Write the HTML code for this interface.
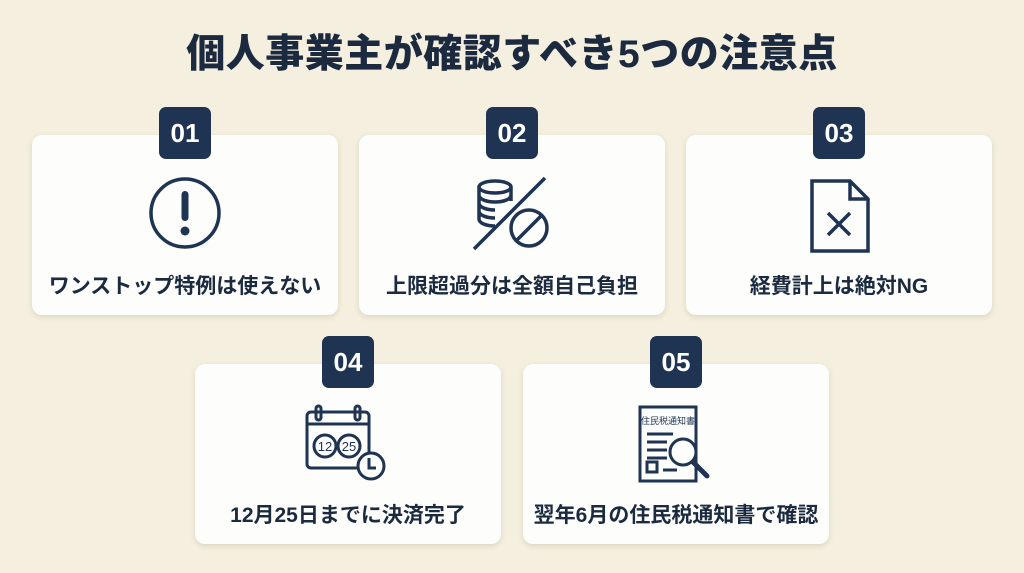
<!DOCTYPE html>
<html><head><meta charset="utf-8"><style>
*{margin:0;padding:0;box-sizing:border-box}
body{width:1024px;height:573px;background:#f5efdf;position:relative;overflow:hidden;font-family:"Liberation Sans","Noto Sans CJK JP",sans-serif;color:#1c2a40}
h1{position:absolute;top:30px;left:0;width:1024px;text-align:center;font-size:39px;line-height:50px;font-weight:900;letter-spacing:0.5px}
.card{position:absolute;width:306px;height:180px;background:#fdfdfc;border-radius:10px;box-shadow:0 2px 6px rgba(120,110,80,.2)}
.badge{position:absolute;width:52px;height:52px;background:#1f3452;color:#fff;border-radius:7px;font-size:26px;font-weight:bold;text-align:center;line-height:52px}
.lbl{position:absolute;left:0;width:306px;top:135px;text-align:center;font-size:21px;font-weight:bold}
svg{position:absolute}
</style></head><body>
<h1>個人事業主が確認すべき5つの注意点</h1>

<div class="card" style="left:32px;top:135px"><div class="lbl">ワンストップ特例は使えない</div>
<svg style="left:115px;top:40px" width="76" height="76"><circle cx="38" cy="38" r="34" fill="none" stroke="#1f3452" stroke-width="3.5"/><rect x="34.5" y="16" width="7" height="30" rx="3.5" fill="#1f3452"/><circle cx="38" cy="56" r="4.5" fill="#1f3452"/></svg></div>
<div class="badge" style="left:159px;top:107px">01</div>

<div class="card" style="left:359px;top:135px"><div class="lbl">上限超過分は全額自己負担</div>
<svg style="left:110px;top:40px" width="90" height="80" fill="none" stroke="#1f3452" stroke-width="3.5">
<ellipse cx="26" cy="12" rx="16" ry="6"/><path d="M10 12v32c0 4 7 7 16 7M42 12v14M10 20c0 4 7 7 16 7s16-3 16-7M10 28c0 4 7 7 16 7M10 36c0 4 7 7 16 7"/>
<circle cx="60" cy="53" r="18"/><line x1="48" y1="65" x2="72" y2="41"/><line x1="5" y1="74" x2="76" y2="3"/></svg></div>
<div class="badge" style="left:486px;top:107px">02</div>

<div class="card" style="left:686px;top:135px"><div class="lbl">経費計上は絶対NG</div>
<svg style="left:122px;top:42px" width="64" height="80" fill="none" stroke="#1f3452" stroke-width="3.5"><path d="M4 4h38l18 18v52H4z M42 4v18h18"/><path d="M20 36l22 22M42 36l-22 22"/></svg></div>
<div class="badge" style="left:813px;top:107px">03</div>

<div class="card" style="left:195px;top:364px;height:180px"><div class="lbl">12月25日までに決済完了</div>
<svg style="left:108px;top:40px" width="90" height="80" fill="none" stroke="#1f3452" stroke-width="3"><rect x="4" y="8" width="62" height="56" rx="4"/><line x1="4" y1="20" x2="66" y2="20"/><rect x="13" y="2" width="5" height="14" rx="2.5"/><rect x="52" y="2" width="5" height="14" rx="2.5"/>
<circle cx="22" cy="42" r="11"/><circle cx="46" cy="42" r="11"/><text x="22" y="47" font-size="13" text-anchor="middle" fill="#1f3452" stroke="none" font-family="Liberation Sans">12</text><text x="46" y="47" font-size="13" text-anchor="middle" fill="#1f3452" stroke="none" font-family="Liberation Sans">25</text>
<circle cx="68" cy="62" r="13" fill="#fdfdfc"/><path d="M66 54v10h7"/></svg></div>
<div class="badge" style="left:322px;top:336px">04</div>

<div class="card" style="left:523px;top:364px;height:180px"><div class="lbl">翌年6月の住民税通知書で確認</div>
<svg style="left:114px;top:40px" width="90" height="82" fill="none" stroke="#1f3452" stroke-width="3"><rect x="3" y="3" width="56" height="74"/><text x="31" y="20" font-size="9" text-anchor="middle" fill="#1f3452" stroke="none" font-family="Noto Sans CJK JP">住民税通知書</text>
<path d="M10 30h26M10 38h20M10 46h20M10 54h20"/><rect x="10" y="58" width="10" height="10"/><path d="M26 66h14"/><circle cx="46" cy="48" r="13" fill="#fdfdfc"/><line x1="56" y1="58" x2="70" y2="72" stroke-width="5" stroke-linecap="round"/></svg></div>
<div class="badge" style="left:650px;top:336px">05</div>
</body></html>
